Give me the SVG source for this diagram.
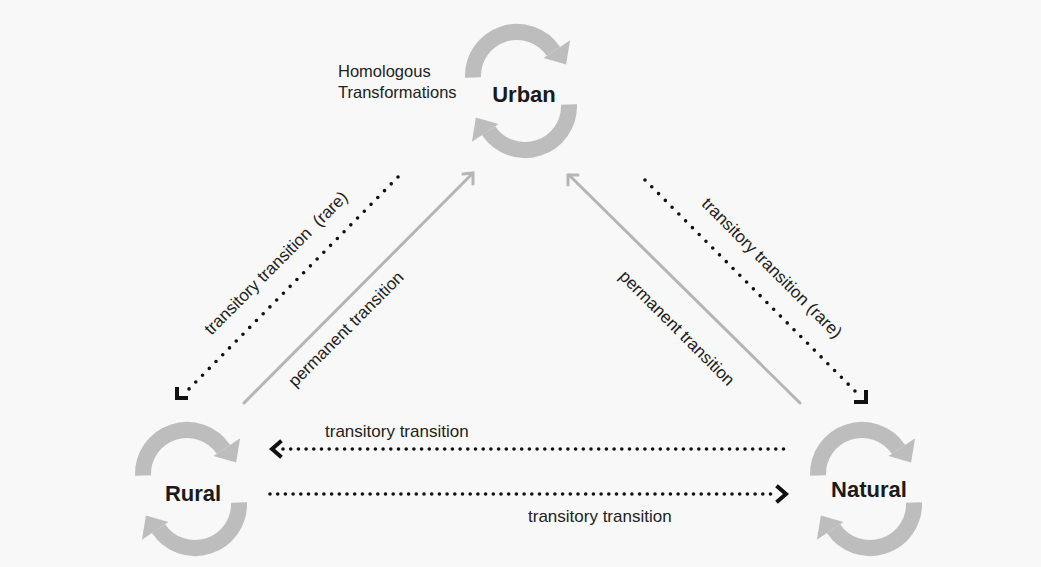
<svg xmlns="http://www.w3.org/2000/svg" width="1041" height="567" viewBox="0 0 1041 567">
<style>
.arc{fill:none;stroke:#bdbdbd;stroke-width:16;stroke-linecap:butt}
.ah{fill:#bdbdbd;stroke:none}
.node{font-family:"Liberation Sans",Arial,sans-serif;font-weight:bold;font-size:22px;fill:#1a1a1a;text-anchor:middle}
.lbl{font-family:"Liberation Sans",Arial,sans-serif;font-size:17px;fill:#222}
.dot{fill:none;stroke:#111;stroke-width:3.6;stroke-linecap:round}
.dh{stroke-dasharray:0 7.7}
.dd{stroke-dasharray:0 9.6}
.head{fill:none;stroke:#111;stroke-width:4;stroke-linecap:square;stroke-linejoin:miter}
.perm{fill:none;stroke:#b5b5b5;stroke-width:3;stroke-linecap:round}
.phead{fill:none;stroke:#b5b5b5;stroke-width:3;stroke-linecap:round;stroke-linejoin:miter}
</style>
<defs>
<g id="cycle">
<path class="arc" d="M-48,-13.5 A44,44 0 0 1 32.5,-39.6"/>
<polygon class="ah" points="22.5,-32.9 49.1,-50.8 45.1,-26.4"/>
<path class="arc" d="M48,13.5 A44,44 0 0 1 -32.5,39.6"/>
<polygon class="ah" points="-22.5,32.9 -49.1,50.8 -45.1,26.4"/>
</g>
</defs>
<rect width="1041" height="567" fill="#f8f8f8"/>
<g id="connectors">
<line class="dot dd" x1="398" y1="177" x2="186" y2="392"/>
<polyline class="head" points="177,389 177,398 186,398"/>
<line class="dot dd" x1="645" y1="180" x2="857" y2="393"/>
<polyline class="head" points="856,402 866,402 866,392"/>
<line class="perm" x1="244" y1="403" x2="472" y2="174"/>
<polyline class="phead" points="463,174 473,173 473,184"/>
<line class="perm" x1="800" y1="403" x2="569" y2="175"/>
<polyline class="phead" points="568,185 568,175 578,175"/>
<line class="dot dh" x1="283" y1="449" x2="787" y2="449"/>
<polyline class="head" points="280,442 272,449 280,456"/>
<line class="dot dh" x1="270" y1="494" x2="775" y2="494"/>
<polyline class="head" points="778,487 786,494 778,501"/>
<text class="lbl" x="280" y="267" text-anchor="middle" transform="rotate(-45 280 267)" xml:space="preserve" style="white-space:pre">transitory transition  (rare)</text>
<text class="lbl" x="350" y="333" text-anchor="middle" transform="rotate(-45 350 333)">permanent transition</text>
<text class="lbl" x="673" y="332" text-anchor="middle" transform="rotate(45 673 332)">permanent transition</text>
<text class="lbl" x="768" y="272" text-anchor="middle" transform="rotate(45 768 272)">transitory transition (rare)</text>
<text class="lbl" x="325" y="437">transitory transition</text>
<text class="lbl" x="528" y="522">transitory transition</text>
</g>
<g id="urban">
<use href="#cycle" transform="translate(521,91)"/>
<text class="node" x="524" y="102">Urban</text>
<text class="lbl" x="338" y="77" style="font-size:16.5px">Homologous</text>
<text class="lbl" x="338" y="98" style="font-size:16.5px">Transformations</text>
</g>
<g id="rural">
<use href="#cycle" transform="translate(191,489)"/>
<text class="node" x="193" y="501">Rural</text>
</g>
<g id="natural">
<use href="#cycle" transform="translate(866,489)"/>
<text class="node" x="869" y="497">Natural</text>
</g>
</svg>
